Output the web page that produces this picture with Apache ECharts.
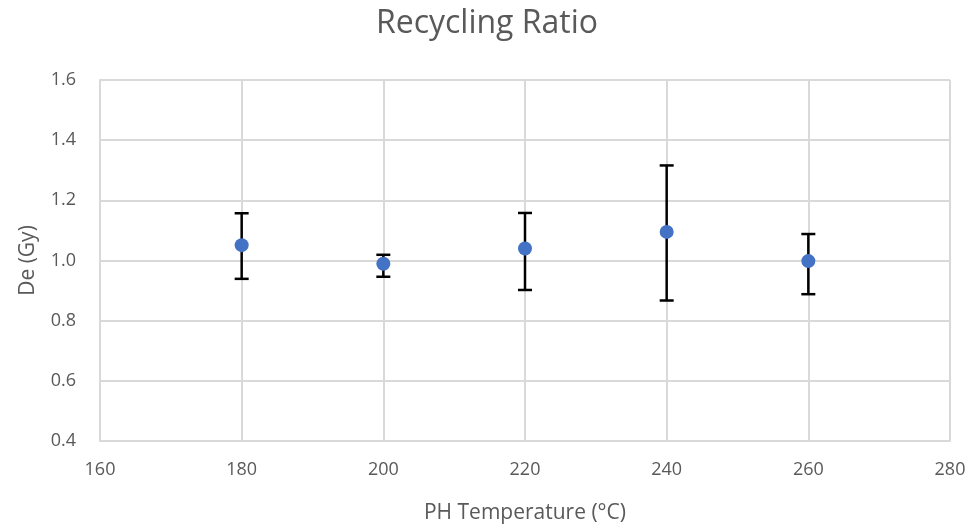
<!DOCTYPE html>
<html>
<head>
    <meta charset="UTF-8">
    <title>Recycling Ratio</title>
    <script src="https://cdn.jsdelivr.net/npm/echarts@6/dist/echarts.min.js"></script>
    <style>
        html, body { margin: 0; padding: 0; background: #fff; }
        #chart { width: 974px; height: 531px; }
    </style>
</head>
<body>
<div id="chart"></div>
<script type="text/javascript">
    // PH temperatures and De values
    var temps = [180, 200, 220, 240, 260];
    var deValues = [1.051, 0.989, 1.040, 1.095, 0.998];
    var errLow = [0.939, 0.946, 0.902, 0.867, 0.888];
    var errHigh = [1.157, 1.019, 1.158, 1.316, 1.088];

    var pointData = [], errData = [];
    for (var i = 0; i < temps.length; i++) {
        pointData.push([temps[i], deValues[i]]);
        errData.push([temps[i], errLow[i], errHigh[i]]);
    }

    var textColor = '#595959';
    var lineColor = '#d9d9d9';
    var font = 'Open Sans';

    var chart = echarts.init(document.getElementById('chart'));
    var option = {
        animation: false,
        title: {
            text: 'Recycling Ratio',
            left: 'center',
            top: 3,
            textStyle: { fontFamily: font, fontSize: 32, fontWeight: 'normal', color: textColor }
        },
        grid: { left: 100, right: 24, top: 80, bottom: 90 },
        xAxis: {
            type: 'value',
            min: 160, max: 280, interval: 20,
            name: 'PH Temperature (°C)',
            nameLocation: 'middle',
            nameGap: 62,
            nameTextStyle: { fontFamily: font, fontSize: 21, color: textColor },
            axisLine: { lineStyle: { color: lineColor, width: 2 } },
            axisTick: { show: false },
            axisLabel: { fontFamily: font, fontSize: 18, color: textColor, margin: 20 },
            splitLine: { show: true, lineStyle: { color: lineColor, width: 2 } }
        },
        yAxis: {
            type: 'value',
            min: 0.4, max: 1.6, interval: 0.2,
            name: 'De (Gy)',
            nameLocation: 'middle',
            nameGap: 61,
            nameTextStyle: { fontFamily: font, fontSize: 21, color: textColor },
            axisLine: { show: true, lineStyle: { color: lineColor, width: 2 } },
            axisTick: { show: false },
            axisLabel: {
                fontFamily: font, fontSize: 18, color: textColor, margin: 24,
                formatter: function (v) { return v.toFixed(1); }
            },
            splitLine: { show: true, lineStyle: { color: lineColor, width: 2 } }
        },
        series: [
            {
                type: 'custom',
                data: errData,
                z: 2,
                renderItem: function (params, api) {
                    var x = api.value(0);
                    var lo = api.coord([x, api.value(1)]);
                    var hi = api.coord([x, api.value(2)]);
                    var half = 7;
                    var style = { stroke: '#000', lineWidth: 2.5 };
                    return {
                        type: 'group',
                        children: [
                            { type: 'line', shape: { x1: lo[0], y1: lo[1], x2: hi[0], y2: hi[1] }, style: style },
                            { type: 'line', shape: { x1: lo[0] - half, y1: lo[1], x2: lo[0] + half, y2: lo[1] }, style: style },
                            { type: 'line', shape: { x1: hi[0] - half, y1: hi[1], x2: hi[0] + half, y2: hi[1] }, style: style }
                        ]
                    };
                }
            },
            {
                type: 'scatter',
                data: pointData,
                symbol: 'circle',
                symbolSize: 14,
                z: 3,
                itemStyle: { color: '#4472C4', opacity: 1 }
            }
        ]
    };
    chart.setOption(option);
</script>
</body>
</html>
